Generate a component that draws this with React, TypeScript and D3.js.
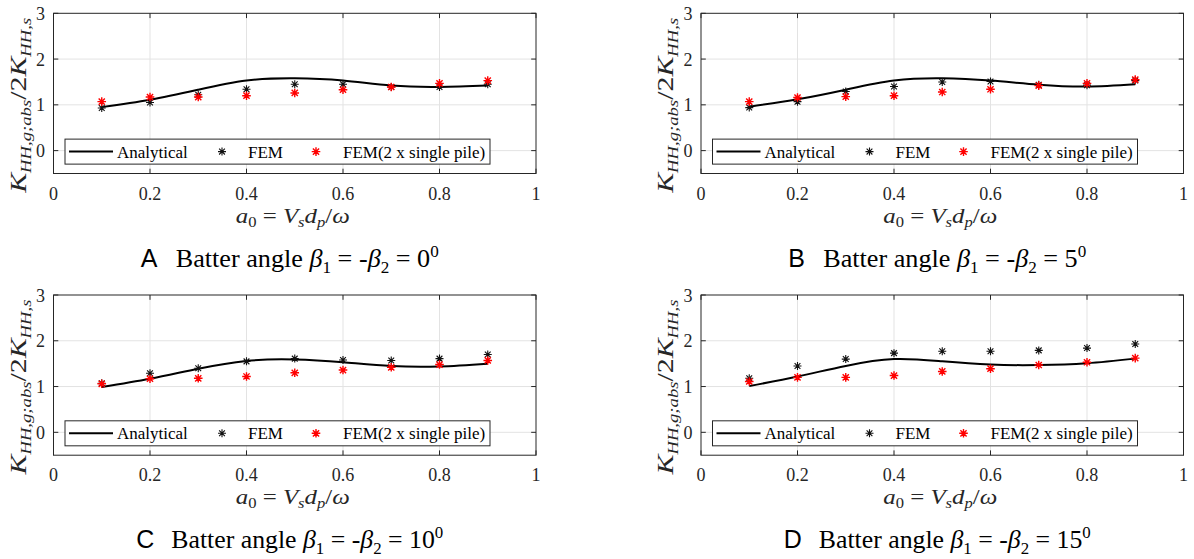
import React from "react";
import * as d3 from "d3";

const xs = [0.1, 0.2, 0.3, 0.4, 0.5, 0.6, 0.7, 0.8, 0.9];

const anaA = [0.95, 1.11, 1.33, 1.53, 1.58, 1.53, 1.42, 1.39, 1.42];
const femA = [0.93, 1.05, 1.22, 1.34, 1.45, 1.45, 1.39, 1.39, 1.45];
const redA = [1.07, 1.17, 1.17, 1.2, 1.26, 1.33, 1.39, 1.47, 1.53];

const anaB = [0.96, 1.12, 1.33, 1.53, 1.58, 1.53, 1.44, 1.4, 1.45];
const femB = [0.94, 1.07, 1.29, 1.4, 1.5, 1.51, 1.44, 1.43, 1.53];
const redB = [1.07, 1.16, 1.18, 1.2, 1.28, 1.34, 1.42, 1.47, 1.55];

const anaC = [0.99, 1.17, 1.39, 1.56, 1.59, 1.53, 1.45, 1.44, 1.5];
const femC = [1.07, 1.29, 1.4, 1.55, 1.61, 1.58, 1.57, 1.61, 1.7];
const redC = [1.06, 1.17, 1.18, 1.22, 1.3, 1.36, 1.42, 1.48, 1.57];

const anaD = [1.01, 1.22, 1.45, 1.6, 1.55, 1.48, 1.47, 1.51, 1.61];
const femD = [1.18, 1.45, 1.6, 1.73, 1.77, 1.77, 1.79, 1.84, 1.93];
const redD = [1.11, 1.2, 1.2, 1.24, 1.33, 1.39, 1.47, 1.53, 1.62];

const xTicks = [0, 0.2, 0.4, 0.6, 0.8, 1];
const yTicks = [0, 1, 2, 3];
const xGrid = [0.2, 0.4, 0.6, 0.8];
const yGrid = [0, 1, 2];
const legendLabels = ["Analytical", "FEM", "FEM(2 x single pile)"];
const panelLetters = ["A", "B", "C", "D"];
const panelAngles = ["0", "5", "10", "15"];

const panels = [
  { ana: anaA, fem: femA, red: redA, left: 53.5, top: 13.3 },
  { ana: anaB, fem: femB, red: redB, left: 701, top: 13.3 },
  { ana: anaC, fem: femC, red: redC, left: 53.5, top: 295 },
  { ana: anaD, fem: femD, red: redD, left: 701, top: 295 },
];

const W = 482.5;
const H = 160.2;
const AX = "#262626";
const GRID = "#e3e3e3";
const SERIF = "'Liberation Serif', 'Times New Roman', serif";
const SANS = "'Liberation Sans', Arial, sans-serif";

function star(cx: number, cy: number, r = 4) {
  const d = r * 0.72;
  return `M${cx - r},${cy}H${cx + r}M${cx},${cy - r}V${cy + r}M${cx - d},${cy - d}L${cx + d},${cy + d}M${cx - d},${cy + d}L${cx + d},${cy - d}`;
}

function Panel({ p, i }: { p: any; i: number }) {
  const x = d3.scaleLinear().domain([0, 1]).range([p.left, p.left + W]);
  const y = d3.scaleLinear().domain([-0.5, 3]).range([p.top + H, p.top]);
  const line = d3
    .line<number>()
    .x((_, k) => x(xs[k]))
    .y((v) => y(v))
    .curve(d3.curveNatural);
  const bottom = p.top + H;
  const right = p.left + W;
  const tl = 4.8;
  const zeroY = y(0);
  const L = p.left + 11.5;
  const cx = p.left + W / 2;
  const capLen = panelAngles[i].length > 1 ? 272 : 263;
  const capStart = cx + 12.5 - capLen / 2;
  return (
    <g>
      {xGrid.map((t) => (
        <line key={"gx" + t} x1={x(t)} x2={x(t)} y1={p.top} y2={bottom} stroke={GRID} strokeWidth={1} />
      ))}
      {yGrid.map((t) => (
        <line key={"gy" + t} x1={p.left} x2={right} y1={y(t)} y2={y(t)} stroke={GRID} strokeWidth={1} />
      ))}
      {xTicks.map((t) => (
        <g key={"tx" + t}>
          <line x1={x(t)} x2={x(t)} y1={bottom} y2={bottom - tl} stroke={AX} />
          <line x1={x(t)} x2={x(t)} y1={p.top} y2={p.top + tl} stroke={AX} />
          <text x={x(t)} y={bottom + 26} textAnchor="middle" fontFamily={SERIF} fontSize={18} fill={AX}>
            {t === 0 || t === 1 ? String(t) : t.toFixed(1)}
          </text>
        </g>
      ))}
      {yTicks.map((t) => (
        <g key={"ty" + t}>
          <line x1={p.left} x2={p.left + tl} y1={y(t)} y2={y(t)} stroke={AX} />
          <line x1={right} x2={right - tl} y1={y(t)} y2={y(t)} stroke={AX} />
          <text x={p.left - 8.5} y={y(t) + 6.5} textAnchor="end" fontFamily={SERIF} fontSize={18} fill={AX}>
            {t}
          </text>
        </g>
      ))}
      <path d={line(p.ana) || ""} fill="none" stroke="#000" strokeWidth={2} />
      {p.fem.map((v: number, k: number) => (
        <path key={"f" + k} d={star(x(xs[k]), y(v))} stroke="#111" strokeWidth={1.1} fill="none" />
      ))}
      {p.red.map((v: number, k: number) => (
        <path key={"r" + k} d={star(x(xs[k]), y(v), 4.3)} stroke="#ff0000" strokeWidth={1.4} fill="none" />
      ))}
      <rect x={p.left} y={p.top} width={W} height={H} fill="none" stroke={AX} strokeWidth={1} />
      {/* legend */}
      <rect x={L} y={zeroY - 11.5} width={425} height={25} fill="#fff" stroke={AX} strokeWidth={1} />
      <line x1={L + 4} x2={L + 48} y1={zeroY + 1} y2={zeroY + 1} stroke="#000" strokeWidth={2} />
      <text x={L + 52} y={zeroY + 7} fontFamily={SERIF} fontSize={17} fill="#000">{legendLabels[0]}</text>
      <path d={star(L + 157, zeroY + 1)} stroke="#111" strokeWidth={1.1} fill="none" />
      <text x={L + 183} y={zeroY + 7} fontFamily={SERIF} fontSize={17} fill="#000">{legendLabels[1]}</text>
      <path d={star(L + 251, zeroY + 1, 4.3)} stroke="#ff0000" strokeWidth={1.4} fill="none" />
      <text x={L + 278} y={zeroY + 7} fontFamily={SERIF} fontSize={17} fill="#000">{legendLabels[2]}</text>
      {/* x label */}
      <text
        x={cx - 2}
        y={bottom + 49}
        textAnchor="middle"
        fontFamily={SERIF}
        fontSize={21}
        fontStyle="italic"
        fill={AX}
        textLength={114}
        lengthAdjust="spacingAndGlyphs"
        style={{ whiteSpace: "pre" }}
      >
        <tspan>a</tspan>
        <tspan fontSize={14} fontStyle="normal" dy={4}>0</tspan>
        <tspan fontStyle="normal" dy={-4}>{" = "}</tspan>
        <tspan>V</tspan>
        <tspan fontSize={14} dy={4}>s</tspan>
        <tspan dy={-4}>d</tspan>
        <tspan fontSize={14} dy={4}>p</tspan>
        <tspan fontStyle="normal" dy={-4}>/</tspan>
        <tspan>ω</tspan>
      </text>
      {/* y label */}
      <text
        transform={`translate(${p.left - 28}, ${p.top + 92}) rotate(-90)`}
        textAnchor="middle"
        fontFamily={SERIF}
        fontSize={24}
        fontStyle="italic"
        fill={AX}
        textLength={175}
        lengthAdjust="spacingAndGlyphs"
      >
        <tspan>K</tspan>
        <tspan fontSize={15} dy={5}>HH,g;abs</tspan>
        <tspan fontStyle="normal" dy={-5}>/2</tspan>
        <tspan>K</tspan>
        <tspan fontSize={15} dy={5}>HH,s</tspan>
      </text>
      {/* caption */}
      <text x={capStart - 35} y={bottom + 93} fontFamily={SANS} fontSize={25} fill="#000">
        {panelLetters[i]}
      </text>
      <text
        x={capStart}
        y={bottom + 93}
        fontFamily={SERIF}
        fontSize={26}
        fill="#000"
        textLength={capLen}
        lengthAdjust="spacingAndGlyphs"
        style={{ whiteSpace: "pre" }}
      >
        <tspan>{"Batter angle "}</tspan>
        <tspan fontStyle="italic">β</tspan>
        <tspan fontSize={17} dy={6}>1</tspan>
        <tspan dy={-6}>{" = -"}</tspan>
        <tspan fontStyle="italic">β</tspan>
        <tspan fontSize={17} dy={6}>2</tspan>
        <tspan dy={-6}>{" = " + panelAngles[i]}</tspan>
        <tspan fontSize={17} dy={-10}>0</tspan>
      </text>
    </g>
  );
}

export default function App() {
  return (
    <svg
      width={1194}
      height={559}
      viewBox="0 0 1194 559"
      style={{ position: "absolute", left: 0, top: 0, display: "block", background: "#fff" }}
    >
      <rect x={0} y={0} width={1194} height={559} fill="#fff" />
      {panels.map((p, i) => (
        <Panel key={i} p={p} i={i} />
      ))}
    </svg>
  );
}
